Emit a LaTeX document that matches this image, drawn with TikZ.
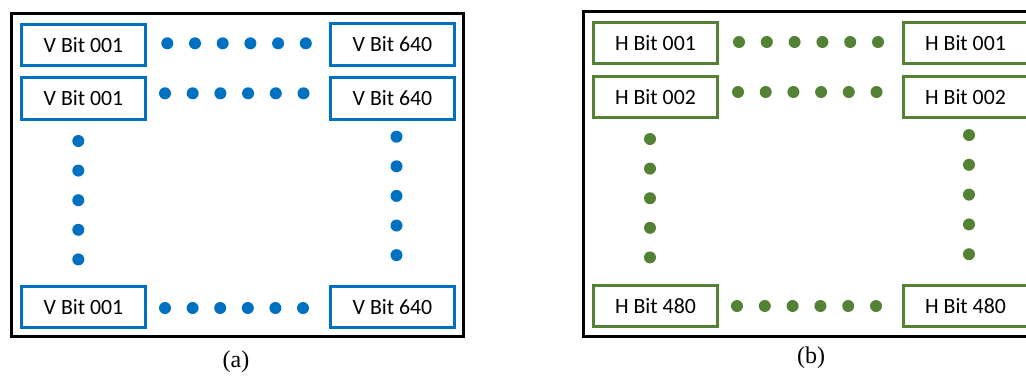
\documentclass[tikz,border=0pt]{standalone}
\usepackage{fontspec}
\setmainfont{Liberation Serif}
\newfontfamily\boxfont{Carlito}
\definecolor{vblue}{RGB}{0,112,192}
\definecolor{hgreen}{RGB}{84,130,53}
\tikzset{
  bitbox/.style={draw=#1, line width=3pt, rectangle, minimum width=124pt, minimum height=41.5pt, inner sep=0pt, font=\boxfont\fontsize{21.8}{25}\selectfont, text=black},
  bitdot/.style={circle, fill=#1, draw=none, minimum size=12pt, inner sep=0pt},
  frameline/.style={draw=black, line width=3pt},
  caption/.style={font=\fontsize{24}{28}\selectfont, inner sep=0pt}
}
\begin{document}
\begin{tikzpicture}[x=1pt,y=-1pt]
\useasboundingbox (0,0) rectangle (1026,376);
% ---------- panel (a) ----------
\draw[frameline] (11.5,13.5) rectangle (463.5,336.5);
\node[bitbox=vblue] (a11) at (83.5,45) {V Bit 001};
\node[bitbox=vblue] (a21) at (83.5,98.5) {V Bit 001};
\node[bitbox=vblue] (a31) at (83.5,307) {V Bit 001};
\node[bitbox=vblue] (a12) at (392.5,44.5) {V Bit 640};
\node[bitbox=vblue] (a22) at (392.5,98.5) {V Bit 640};
\node[bitbox=vblue] (a32) at (392.5,307) {V Bit 640};
\foreach \i in {0,...,5}{
  \node[bitdot=vblue] (ar1d\i) at (167.3+27.7*\i,43.3) {};
  \node[bitdot=vblue] (ar2d\i) at (165+27.7*\i,93.3) {};
  \node[bitdot=vblue] (ar3d\i) at (165+27.6*\i,308) {};
}
\foreach \i in {0,...,4}{
  \node[bitdot=vblue] (acld\i) at (78.3,141+29.6*\i) {};
  \node[bitdot=vblue] (acrd\i) at (396.5,136.7+29.6*\i) {};
}
\node[caption] (capa) at (236,362) {(a)};
% ---------- panel (b) ----------
\draw[frameline] (1030,11.5) -- (583.5,11.5) -- (583.5,336.5) -- (1030,336.5);
\node[bitbox=hgreen] (b11) at (655.5,43) {H Bit 001};
\node[bitbox=hgreen] (b21) at (655.5,97) {H Bit 002};
\node[bitbox=hgreen] (b31) at (655.5,306) {H Bit 480};
\node[bitbox=hgreen] (b12) at (965.5,43) {H Bit 001};
\node[bitbox=hgreen] (b22) at (965.5,97) {H Bit 002};
\node[bitbox=hgreen] (b32) at (965.5,306) {H Bit 480};
\foreach \i in {0,...,5}{
  \node[bitdot=hgreen] (br1d\i) at (739+27.8*\i,42) {};
  \node[bitdot=hgreen] (br2d\i) at (738+27.7*\i,92) {};
  \node[bitdot=hgreen] (br3d\i) at (737+27.8*\i,306) {};
}
\foreach \i in {0,...,4}{
  \node[bitdot=hgreen] (bcld\i) at (650,139+29.6*\i) {};
  \node[bitdot=hgreen] (bcrd\i) at (969,135+29.8*\i) {};
}
\node[caption] (capb) at (811,358) {(b)};
\end{tikzpicture}
\end{document}
